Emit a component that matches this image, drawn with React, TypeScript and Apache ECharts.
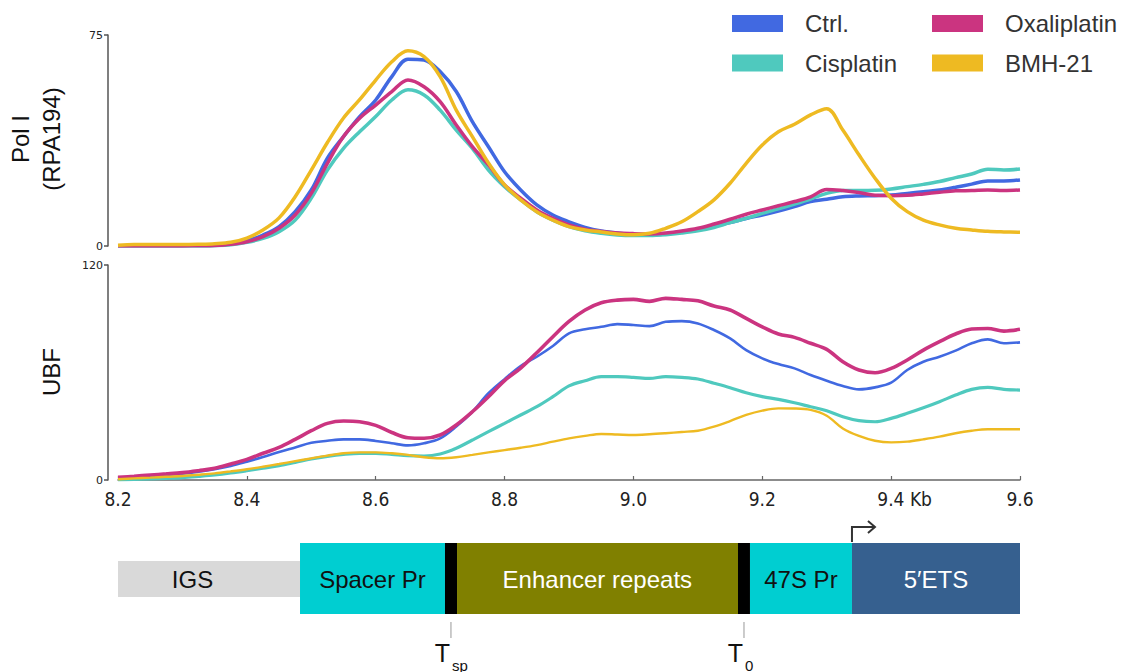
import React, { useEffect, useRef } from 'react';
import * as echarts from 'echarts';

// Genomic position (kb)
const xs = [
  8.2, 8.225, 8.25, 8.275, 8.3, 8.325, 8.35, 8.375,
  8.4, 8.425, 8.45, 8.475, 8.5, 8.525, 8.55, 8.575,
  8.6, 8.625, 8.65, 8.675, 8.7, 8.725, 8.75, 8.775,
  8.8, 8.825, 8.85, 8.875, 8.9, 8.925, 8.95, 8.975,
  9.0, 9.025, 9.05, 9.075, 9.1, 9.125, 9.15, 9.175,
  9.2, 9.225, 9.25, 9.275, 9.3, 9.325, 9.35, 9.375,
  9.4, 9.425, 9.45, 9.475, 9.5, 9.525, 9.55, 9.575,
  9.6,
];

const seriesNames = ['Ctrl.', 'Cisplatin', 'Oxaliplatin', 'BMH-21'];

// Pol I (RPA194)
const polCtrl = [
  0.1, 0.1, 0.1, 0.1, 0.1, 0.2, 0.3, 0.8,
  1.9, 3.9, 6.9, 12.2, 19.9, 31.2, 38.9, 46,
  51.9, 60.2, 66.4, 66.1, 62, 54.9, 44.2, 35.3,
  26.4, 19.9, 14.6, 11, 8.6, 6.6, 5.3, 4.6,
  4.0, 3.9, 4.3, 5.1, 6.0, 7.1, 8.3, 9.8,
  11, 12.4, 14, 15.8, 16.6, 17.5, 17.8, 17.9,
  18.1, 18.7, 19.3, 19.9, 20.9, 22, 23.1, 23.1,
  23.5,
];
const polCis = [
  0, 0, 0, 0, 0, 0, 0.1, 0.4,
  1.3, 2.7, 5.1, 9.2, 17, 27, 34.7, 40.6,
  46, 51.9, 55.5, 53.7, 48.3, 41.2, 34.7, 27,
  21.1, 16.4, 12.2, 9.2, 6.9, 5.4, 4.5, 3.9,
  3.7, 3.7, 4.0, 4.6, 5.4, 6.6, 8.3, 9.8,
  11.6, 13.2, 14.9, 16.7, 18.7, 19.7, 19.7, 19.8,
  20.3, 21.1, 21.9, 22.9, 24.3, 25.6, 27.3, 27,
  27.4,
];
const polOxa = [
  0, 0, 0, 0, 0, 0.1, 0.2, 0.6,
  1.5, 3.3, 6.3, 11, 18.7, 29.4, 38.9, 45.4,
  50.1, 54.9, 59, 56.6, 51.3, 43, 35.3, 28.8,
  21.7, 17, 12.8, 9.8, 7.5, 6, 5.2, 4.6,
  4.4, 4.3, 4.6, 5.3, 6.3, 7.8, 9.5, 11.3,
  12.8, 14.3, 15.8, 17.5, 20.1, 19.7, 19, 18,
  17.9, 18, 18.5, 19.1, 19.6, 19.7, 19.9, 19.7,
  19.9,
];
const polBmh = [
  0.3, 0.5, 0.5, 0.5, 0.5, 0.6, 0.8, 1.3,
  2.8, 5.7, 10, 17.5, 27, 36.8, 45.5, 52,
  59, 65.5, 69.4, 67.3, 60.2, 48.3, 38.9, 29.5,
  21.7, 16.4, 12.2, 9.2, 6.9, 5.7, 5.0, 4.3,
  4.0, 4.5, 6.3, 8.6, 12.2, 16.4, 22.3, 29.4,
  35.9, 40.6, 43.3, 46.6, 48.8, 41.2, 32.4, 24.1,
  17, 12.2, 9.2, 7.5, 6.3, 5.7, 5.2, 5.0,
  4.9,
];

// UBF
const ubfCtrl = [
  0.9, 1.5, 2.2, 2.8, 3.5, 4.6, 6.0, 7.8,
  10.2, 12.8, 15.6, 18.2, 20.8, 21.9, 22.7, 22.7,
  21.8, 20.5, 19.3, 20.5, 23.2, 29.8, 38.1, 48.4,
  56.3, 63.6, 68.8, 74.8, 81.8, 84.1, 85.5, 87,
  86.5, 85.9, 88.3, 88.7, 87.4, 83.7, 79, 72.5,
  67.9, 64.7, 62.3, 58.6, 55.4, 52.5, 50.6, 51.7,
  54.3, 61.4, 66, 68.8, 72.2, 76.3, 78.5, 76.3,
  76.8,
];
const ubfCis = [
  0, 0.3, 0.6, 0.9, 1.3, 2.0, 2.8, 3.9,
  5.2, 6.6, 8, 9.8, 11.7, 13.2, 14.3, 14.9,
  14.9, 14.3, 13.6, 13.4, 14.5, 17.7, 22.3, 27,
  31.6, 36.3, 40.9, 46.5, 52.5, 55.4, 57.7, 57.7,
  57.3, 56.7, 57.7, 57.3, 56.4, 54, 51.5, 48.7,
  46.5, 45, 43.1, 40.9, 38.7, 35.3, 33.1, 32.5,
  34.4, 37.2, 40.3, 43.7, 47.4, 50.6, 51.7, 50.6,
  50.2,
];
const ubfOxa = [
  1.5, 2.1, 2.8, 3.4, 4.1, 5.2, 6.5, 8.9,
  11.5, 14.9, 18.2, 22.7, 27.5, 31.6, 32.9, 32.5,
  30.5, 26.5, 23.6, 23.3, 25.1, 30.7, 38.1, 46.5,
  55.5, 62.5, 71, 80, 88.5, 94.9, 98.9, 100.4,
  100.8, 99.7, 101.4, 100.8, 100, 97.1, 94.9, 90.2,
  85.5, 81.5, 79.6, 76.3, 72.9, 66, 61.4, 59.9,
  62.3, 67, 72.5, 77.2, 81.5, 84.3, 84.6, 83.1,
  84.1,
];
const ubfBmh = [
  0.4, 0.9, 1.3, 1.8, 2.2, 2.9, 3.7, 4.8,
  6, 7.4, 8.9, 10.5, 12.1, 13.6, 14.9, 15.4,
  15.4, 14.9, 14, 12.7, 12.1, 12.7, 14, 15.4,
  16.7, 18, 19.5, 21.4, 23.2, 24.6, 25.7, 25.4,
  25.1, 25.5, 26.1, 26.8, 27.5, 29.8, 32.9, 36.3,
  38.7, 40, 39.9, 39.1, 35.9, 28.8, 24.6, 21.9,
  21, 21.4, 22.7, 24.2, 26.1, 27.5, 28.3, 28.3,
  28.3,
];

const polData = [polCtrl, polCis, polOxa, polBmh];
const ubfData = [ubfCtrl, ubfCis, ubfOxa, ubfBmh];

// x-axis ticks
const xTicks = [8.2, 8.4, 8.6, 8.8, 9.0, 9.2, 9.4, 9.6];
const polRange = [0, 75];
const ubfRange = [0, 120];

// rDNA map segments (kb)
const segNames = ['IGS', 'Spacer Pr', '', 'Enhancer repeats', '', '47S Pr', '5′ETS'];
const segStart = [8.2, 8.4825, 8.7075, 8.7262, 9.1623, 9.1809, 9.3392];
const segEnd = [8.4825, 8.7075, 8.7262, 9.1623, 9.1809, 9.3392, 9.6];
const segLabelAt = [8.3156, 8.595, 0, 8.944, 0, 9.26, 9.4696];
const termPos = [8.7168, 9.1716];
const termSub = ['sp', '0'];
const tssPos = [9.3392];

// styles
const lineColors = ['#4169E1', '#4FC9BE', '#CB3480', '#EEBA22'];
const topWidths = [3.5, 3.5, 3.5, 3.5];
const botWidths = [2.6, 3.2, 3.6, 2.4];
const segFill = ['#D9D9D9', '#00CED1', '#000000', '#808000', '#000000', '#00CED1', '#36608F'];
const segTextColor = ['#111', '#111', '#fff', '#fff', '#fff', '#111', '#fff'];

const SANS = 'Liberation Sans';

export default function App() {
  const ref = useRef<HTMLDivElement>(null);

  useEffect(() => {
    document.body.style.margin = '0';
    if (!ref.current) return;
    const chart = echarts.init(ref.current, undefined, { renderer: 'svg' });

    const lineSeries: any[] = [];
    seriesNames.forEach((name, k) => {
      lineSeries.push({
        type: 'line',
        name,
        xAxisIndex: 0,
        yAxisIndex: 0,
        data: xs.map((x, i) => [x, polData[k][i]]),
        symbol: 'none',
        smooth: 0.35,
        lineStyle: { width: topWidths[k], color: lineColors[k] },
        itemStyle: { color: lineColors[k] },
      });
    });
    seriesNames.forEach((name, k) => {
      lineSeries.push({
        type: 'line',
        name,
        xAxisIndex: 1,
        yAxisIndex: 1,
        data: xs.map((x, i) => [x, ubfData[k][i]]),
        symbol: 'none',
        smooth: 0.35,
        lineStyle: { width: botWidths[k], color: lineColors[k] },
        itemStyle: { color: lineColors[k] },
      });
    });

    const yAxisBase = (range: number[]) => ({
      type: 'value',
      min: range[0],
      max: range[1],
      interval: range[1] - range[0],
      offset: 10,
      splitLine: { show: false },
      axisLine: { show: true, lineStyle: { color: '#555', width: 1.5 } },
      axisTick: { show: true, length: 4, lineStyle: { color: '#555', width: 1.5 } },
      axisLabel: { fontSize: 11, color: '#222', fontFamily: 'DejaVu Sans', margin: 5 },
    });

    const legendBase = {
      orient: 'vertical',
      top: 11.5,
      itemWidth: 51,
      itemHeight: 17,
      itemGap: 15.5,
      padding: 0,
      icon: 'rect',
      selectedMode: false,
      textStyle: { fontSize: 24, fontFamily: SANS, color: '#333', lineHeight: 24, padding: [0, 0, 0, 17] },
    };

    chart.setOption({
      animation: false,
      backgroundColor: '#fff',
      legend: [
        { ...legendBase, left: 732, data: ['Ctrl.', 'Cisplatin'] },
        { ...legendBase, left: 932, data: ['Oxaliplatin', 'BMH-21'] },
      ],
      grid: [
        { left: 118, right: 111, top: 35, height: 211 },
        { left: 118, right: 111, top: 265, height: 215 },
        { left: 118, right: 111, top: 543, height: 71 },
      ],
      xAxis: [
        { type: 'value', gridIndex: 0, min: xTicks[0], max: xTicks[xTicks.length - 1], show: false },
        {
          type: 'value',
          gridIndex: 1,
          min: xTicks[0],
          max: xTicks[xTicks.length - 1],
          interval: 0.2,
          offset: 7,
          splitLine: { show: false },
          axisLine: { show: true, lineStyle: { color: '#666', width: 1.5 } },
          axisTick: { show: true, inside: true, length: 4, lineStyle: { color: '#666', width: 1.2 } },
          axisLabel: {
            fontSize: 19,
            color: '#222',
            fontFamily: 'DejaVu Sans Condensed',
            margin: 2,
            formatter: (v: number) =>
              Math.abs(v - 9.4) < 1e-6 ? '{k|9.4 Kb}' : v.toFixed(1),
            rich: {
              k: { fontSize: 19, color: '#222', fontFamily: 'DejaVu Sans Condensed', padding: [0, 0, 0, 27] },
            },
          },
        },
        { type: 'value', gridIndex: 2, min: xTicks[0], max: xTicks[xTicks.length - 1], show: false },
      ],
      yAxis: [
        { ...yAxisBase(polRange), gridIndex: 0 },
        { ...yAxisBase(ubfRange), gridIndex: 1 },
        { type: 'value', gridIndex: 2, min: 0, max: 1, show: false },
      ],
      graphic: [
        { type: 'text', x: 20, y: 139, rotation: Math.PI / 2, style: { text: 'Pol I', fontSize: 24, fontFamily: SANS, fill: '#111', align: 'center', verticalAlign: 'middle' } },
        { type: 'text', x: 51, y: 139, rotation: Math.PI / 2, style: { text: '(RPA194)', fontSize: 24, fontFamily: SANS, fill: '#111', align: 'center', verticalAlign: 'middle' } },
        { type: 'text', x: 51, y: 372, rotation: Math.PI / 2, style: { text: 'UBF', fontSize: 24, fontFamily: SANS, fill: '#111', align: 'center', verticalAlign: 'middle' } },
      ],
      series: [
        ...lineSeries,
        {
          type: 'custom',
          xAxisIndex: 2,
          yAxisIndex: 2,
          silent: true,
          data: segStart.map((s, i) => [s, segEnd[i], i]),
          encode: { x: [0, 1] },
          renderItem: (params: any, api: any) => {
            const i = api.value(2);
            const x0 = api.coord([api.value(0), 0])[0];
            const x1 = api.coord([api.value(1), 0])[0];
            const cs = params.coordSys;
            const half = i === 0;
            const y = half ? cs.y + cs.height * 0.254 : cs.y;
            const h = half ? cs.height * 0.507 : cs.height;
            const children: any[] = [
              { type: 'rect', shape: { x: x0, y, width: x1 - x0, height: h }, style: { fill: segFill[i] } },
            ];
            if (segNames[i]) {
              const lx = api.coord([segLabelAt[i], 0])[0];
              children.push({
                type: 'text',
                style: {
                  text: segNames[i],
                  x: lx,
                  y: cs.y + cs.height / 2 + 1,
                  fill: segTextColor[i],
                  fontSize: 24,
                  fontFamily: SANS,
                  align: 'center',
                  verticalAlign: 'middle',
                },
              });
            }
            return { type: 'group', children };
          },
        },
        {
          type: 'custom',
          xAxisIndex: 2,
          yAxisIndex: 2,
          silent: true,
          data: termPos.map((p, i) => [p, i]),
          renderItem: (params: any, api: any) => {
            const i = api.value(1);
            const x = api.coord([api.value(0), 0])[0];
            const cs = params.coordSys;
            const yb = cs.y + cs.height;
            return {
              type: 'group',
              children: [
                { type: 'line', shape: { x1: x, y1: yb + 8, x2: x, y2: yb + 24 }, style: { stroke: '#999', lineWidth: 1 } },
                { type: 'text', style: { text: 'T', x: x - 1, y: yb + 39, fontSize: 25, fontFamily: SANS, fill: '#111', align: 'right', verticalAlign: 'middle' } },
                { type: 'text', style: { text: termSub[i], x: x + 1, y: yb + 51, fontSize: 15, fontFamily: SANS, fill: '#111', align: 'left', verticalAlign: 'middle' } },
              ],
            };
          },
        },
        {
          type: 'custom',
          xAxisIndex: 2,
          yAxisIndex: 2,
          silent: true,
          data: tssPos.map((p) => [p]),
          renderItem: (params: any, api: any) => {
            const x = api.coord([api.value(0), 0])[0];
            const cs = params.coordSys;
            const yt = cs.y;
            return {
              type: 'group',
              children: [
                { type: 'polyline', shape: { points: [[x, yt - 1], [x, yt - 16], [x + 23, yt - 16]] }, style: { stroke: '#333', lineWidth: 2, fill: 'none' } },
                { type: 'polyline', shape: { points: [[x + 16, yt - 22], [x + 23, yt - 16], [x + 16, yt - 10]] }, style: { stroke: '#333', lineWidth: 2, fill: 'none' } },
              ],
            };
          },
        },
      ],
    });

    return () => chart.dispose();
  }, []);

  return <div ref={ref} style={{ width: 1131, height: 672 }} />;
}
